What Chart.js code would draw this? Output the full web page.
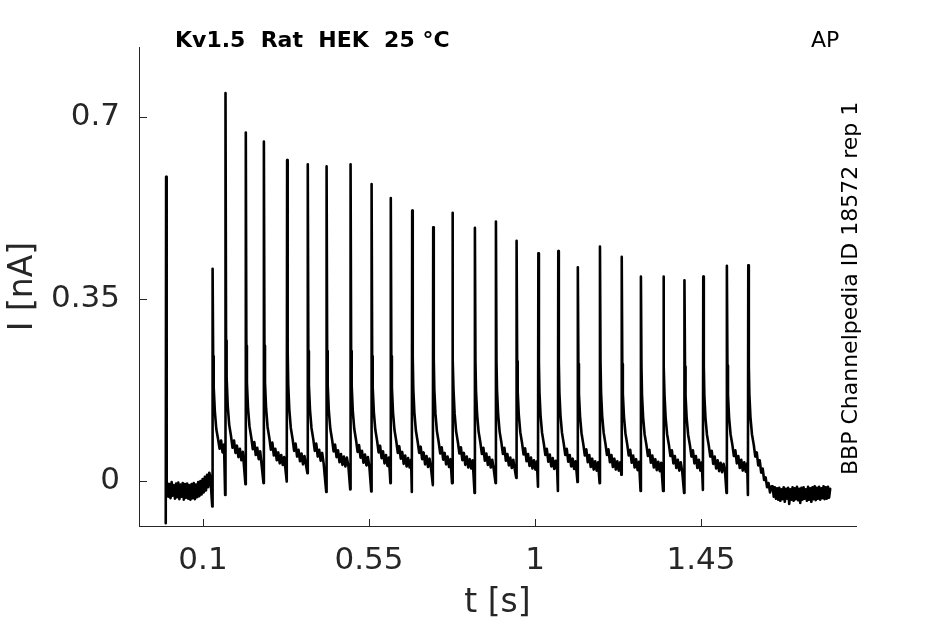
<!DOCTYPE html>
<html>
<head>
<meta charset="utf-8">
<title>Kv1.5 Rat HEK 25 °C - AP</title>
<script src="https://cdn.jsdelivr.net/npm/chart.js@4.4.1/dist/chart.umd.min.js"></script>
<style>
  html, body { margin: 0; padding: 0; background: #fff; }
  #wrap { width: 945px; height: 624px; }
</style>
</head>
<body>
<div id="wrap"><canvas id="graph"></canvas></div>
<script>
// spike times [s], peak current and the short dip just before it [nA]
const spikeTimes = [0.000, 0.126, 0.161, 0.216, 0.265, 0.328, 0.384, 0.435, 0.500, 0.557,
  0.609, 0.667, 0.724, 0.776, 0.837, 0.894, 0.950, 1.009, 1.063, 1.116,
  1.176, 1.235, 1.287, 1.348, 1.405, 1.456, 1.520, 1.578];
const spikePeaks = [0.585, 0.408, 0.746, 0.670, 0.653, 0.617, 0.609, 0.605, 0.609, 0.571,
  0.544, 0.520, 0.488, 0.516, 0.487, 0.499, 0.462, 0.438, 0.442, 0.411,
  0.451, 0.431, 0.393, 0.393, 0.386, 0.393, 0.414, 0.415];
const spikeDips = [-0.081, -0.049, -0.027, -0.006, -0.004, -0.001, 0.015, -0.021, -0.016, -0.020,
  -0.004, -0.021, -0.008, -0.004, -0.023, -0.004, 0.006, -0.011, -0.019, -0.002,
  -0.004, 0.012, -0.019, -0.019, -0.023, -0.017, -0.023, -0.027];
const dipLead = 0.001;

// samples after each peak: time offsets [s] and current [nA]
const tailOffsets = [0.0015, 0.003, 0.006, 0.010, 0.015, 0.019, 0.023, 0.027, 0.031,
  0.035, 0.039, 0.043, 0.047, 0.051, 0.055, 0.059, 0.063];
const tailValues = [
  [-0.015],
  [0.24, 0.18, 0.135, 0.10, 0.08, 0.062, 0.078, 0.055, 0.07],
  [0.27, 0.20, 0.145, 0.108, 0.086, 0.064, 0.078, 0.054, 0.068, 0.046, 0.062, 0.04, 0.056],
  [0.26, 0.19, 0.14, 0.105, 0.083, 0.061, 0.075, 0.05, 0.064, 0.042, 0.057],
  [0.26, 0.19, 0.14, 0.104, 0.082, 0.06, 0.074, 0.049, 0.062, 0.04, 0.055, 0.034, 0.05, 0.031, 0.046],
  [0.25, 0.185, 0.137, 0.102, 0.08, 0.058, 0.072, 0.047, 0.06, 0.038, 0.053, 0.032, 0.048],
  [0.25, 0.185, 0.137, 0.102, 0.08, 0.058, 0.072, 0.047, 0.06, 0.039, 0.054, 0.034],
  [0.25, 0.185, 0.136, 0.101, 0.079, 0.057, 0.07, 0.046, 0.059, 0.036, 0.052, 0.031, 0.047, 0.028, 0.045, 0.029],
  [0.25, 0.184, 0.135, 0.1, 0.078, 0.056, 0.069, 0.045, 0.058, 0.035, 0.051, 0.03, 0.046, 0.027],
  [0.24, 0.18, 0.133, 0.099, 0.077, 0.055, 0.068, 0.044, 0.057, 0.034, 0.05, 0.029, 0.045],
  [0.24, 0.18, 0.132, 0.098, 0.076, 0.054, 0.067, 0.043, 0.056, 0.033, 0.049, 0.028, 0.044, 0.026, 0.041],
  [0.24, 0.178, 0.131, 0.097, 0.075, 0.054, 0.066, 0.042, 0.055, 0.032, 0.048, 0.027, 0.043, 0.025],
  [0.235, 0.176, 0.13, 0.096, 0.074, 0.053, 0.065, 0.041, 0.054, 0.032, 0.047, 0.027, 0.042],
  [0.235, 0.176, 0.13, 0.096, 0.074, 0.053, 0.065, 0.04, 0.054, 0.031, 0.047, 0.026, 0.042, 0.024, 0.04],
  [0.23, 0.174, 0.128, 0.095, 0.073, 0.052, 0.064, 0.039, 0.053, 0.031, 0.046, 0.026, 0.041, 0.023],
  [0.23, 0.174, 0.128, 0.095, 0.073, 0.052, 0.064, 0.039, 0.052, 0.03, 0.045, 0.025, 0.041, 0.023],
  [0.23, 0.172, 0.127, 0.094, 0.072, 0.051, 0.063, 0.038, 0.052, 0.029, 0.045, 0.024, 0.04, 0.022, 0.038],
  [0.228, 0.17, 0.126, 0.093, 0.071, 0.05, 0.062, 0.037, 0.051, 0.028, 0.044, 0.023, 0.039, 0.021],
  [0.228, 0.17, 0.126, 0.093, 0.071, 0.05, 0.062, 0.037, 0.05, 0.028, 0.043, 0.023, 0.038],
  [0.225, 0.168, 0.124, 0.092, 0.07, 0.049, 0.061, 0.036, 0.05, 0.027, 0.043, 0.022, 0.038, 0.02, 0.036],
  [0.228, 0.17, 0.125, 0.093, 0.071, 0.05, 0.061, 0.036, 0.05, 0.027, 0.043, 0.022, 0.038, 0.02, 0.036],
  [0.225, 0.168, 0.124, 0.092, 0.07, 0.049, 0.06, 0.035, 0.049, 0.026, 0.042, 0.021, 0.037],
  [0.22, 0.165, 0.122, 0.09, 0.069, 0.048, 0.06, 0.035, 0.049, 0.026, 0.042, 0.021, 0.037, 0.019, 0.035],
  [0.22, 0.165, 0.122, 0.09, 0.069, 0.048, 0.059, 0.034, 0.048, 0.025, 0.041, 0.02, 0.036, 0.018],
  [0.22, 0.164, 0.121, 0.089, 0.068, 0.047, 0.059, 0.034, 0.048, 0.025, 0.041, 0.02, 0.036],
  [0.22, 0.164, 0.121, 0.089, 0.068, 0.047, 0.058, 0.033, 0.047, 0.024, 0.04, 0.019, 0.035, 0.017, 0.033, 0.018],
  [0.222, 0.166, 0.122, 0.09, 0.069, 0.048, 0.059, 0.034, 0.048, 0.025, 0.041, 0.02, 0.036, 0.018, 0.034],
  [0.222, 0.166, 0.122, 0.09, 0.069, 0.047, 0.055, 0.03, 0.04, 0.016, 0.024, 0.002, 0.007, -0.012, -0.004, -0.022, -0.01],
];

// holding current before and after the train, sampled every restStep [s]
const restStep = 0.003;
const restBeforeStart = 0.003;
const restBefore = [
  -0.004, -0.030, -0.006, -0.033, -0.002, -0.028, -0.008, -0.034, -0.005, -0.031,
  -0.003, -0.035, -0.007, -0.030, -0.004, -0.036, -0.006, -0.032, -0.005, -0.034,
  -0.008, -0.036, -0.006, -0.033, -0.004, -0.035, -0.007, -0.031, -0.002, -0.029,
  0.000, -0.026, 0.004, -0.022, 0.008, -0.018, 0.012, -0.012, 0.016, 0.008,
];
const restAfterStart = 1.644;
const restAfter = [
  -0.010, -0.030, -0.012, -0.034, -0.014, -0.036, -0.013, -0.038, -0.016, -0.035,
  -0.012, -0.040, -0.015, -0.034, -0.013, -0.044, -0.016, -0.036, -0.012, -0.038,
  -0.014, -0.035, -0.011, -0.037, -0.015, -0.042, -0.013, -0.036, -0.012, -0.034,
  -0.016, -0.038, -0.011, -0.036, -0.014, -0.040, -0.012, -0.035, -0.010, -0.037,
  -0.013, -0.034, -0.011, -0.036, -0.014, -0.033, -0.010, -0.035, -0.012, -0.034,
  -0.011, -0.032, -0.015,
];

const xTicks = [0.1, 0.55, 1, 1.45];
const yTicks = [0, 0.35, 0.7];

const axisColor = "#262626";
const fontFamily = "'DejaVu Sans', 'Liberation Sans', sans-serif";

// 記録を1本の時系列にまとめる
const buildTrace = () => {
  const points = [];
  spikeTimes.forEach((ts, i) => {
    points.push({ x: ts - dipLead, y: spikeDips[i] });
    points.push({ x: ts, y: spikePeaks[i] });
    tailValues[i].forEach((v, k) => points.push({ x: ts + tailOffsets[k], y: v }));
  });
  restBefore.forEach((v, k) => points.push({ x: restBeforeStart + k * restStep, y: v }));
  restAfter.forEach((v, k) => points.push({ x: restAfterStart + k * restStep, y: v }));
  return points.sort((a, b) => a.x - b.x);
};

// inward tick marks and the free texts round the axes
const axisDecor = {
  id: "axisDecor",
  afterDraw(chart) {
    const { ctx, chartArea, scales } = chart;
    ctx.save();
    ctx.strokeStyle = axisColor;
    ctx.lineWidth = 1;
    ctx.beginPath();
    yTicks.forEach((v) => {
      const y = Math.round(scales.y.getPixelForValue(v)) + 0.5;
      ctx.moveTo(chartArea.left, y);
      ctx.lineTo(chartArea.left + 8, y);
    });
    xTicks.forEach((v) => {
      const x = Math.round(scales.x.getPixelForValue(v)) + 0.5;
      ctx.moveTo(x, chartArea.bottom);
      ctx.lineTo(x, chartArea.bottom - 7);
    });
    ctx.stroke();

    ctx.fillStyle = "#000";
    ctx.textBaseline = "alphabetic";
    ctx.textAlign = "left";
    ctx.font = "bold 22px " + fontFamily;
    ctx.fillText("Kv1.5  Rat  HEK  25 °C", 175, 47);
    ctx.font = "22px " + fontFamily;
    ctx.fillText("AP", 811, 47);
    ctx.translate(857, 475);
    ctx.rotate(-Math.PI / 2);
    ctx.fillText("BBP Channelpedia ID 18572 rep 1", 0, 0);
    ctx.restore();
  },
};

Chart.defaults.font.family = fontFamily;

new Chart(document.getElementById("graph").getContext("2d"), {
  type: "line",
  data: {
    datasets: [
      {
        label: "I",
        data: buildTrace(),
        borderColor: "#000",
        borderWidth: 2.6,
        pointRadius: 0,
        fill: false,
        tension: 0,
        borderJoinStyle: "round",
        borderCapStyle: "round",
      },
    ],
  },
  options: {
    responsive: true,
    maintainAspectRatio: false,
    animation: false,
    layout: { padding: { left: 0, top: 47, right: 89, bottom: 0 } },
    plugins: {
      legend: { display: false },
      tooltip: { enabled: false },
    },
    scales: {
      x: {
        type: "linear",
        min: -0.0735,
        max: 1.87,
        afterFit(scale) {
          scale.height = 98;
        },
        afterBuildTicks(scale) {
          scale.ticks = xTicks.map((v) => ({ value: v }));
        },
        grid: { display: false, drawTicks: false },
        border: { display: true, color: axisColor, width: 1 },
        ticks: {
          color: axisColor,
          font: { size: 31 },
          padding: 16,
          maxRotation: 0,
          autoSkip: false,
          callback: (v) => String(v),
        },
        title: {
          display: true,
          text: "t [s]",
          color: axisColor,
          font: { size: 33 },
          padding: { top: 0, bottom: 1 },
        },
      },
      y: {
        type: "linear",
        min: -0.0865,
        max: 0.8346,
        afterFit(scale) {
          scale.width = 139;
        },
        afterBuildTicks(scale) {
          scale.ticks = yTicks.map((v) => ({ value: v }));
        },
        grid: { display: false, drawTicks: false },
        border: { display: true, color: axisColor, width: 1 },
        ticks: {
          color: axisColor,
          font: { size: 31 },
          padding: 19,
          callback: (v) => String(v),
        },
        title: {
          display: true,
          text: "I [nA]",
          color: axisColor,
          font: { size: 33 },
          padding: { top: 4, bottom: 0 },
        },
      },
    },
  },
  plugins: [axisDecor],
});
</script>
</body>
</html>
